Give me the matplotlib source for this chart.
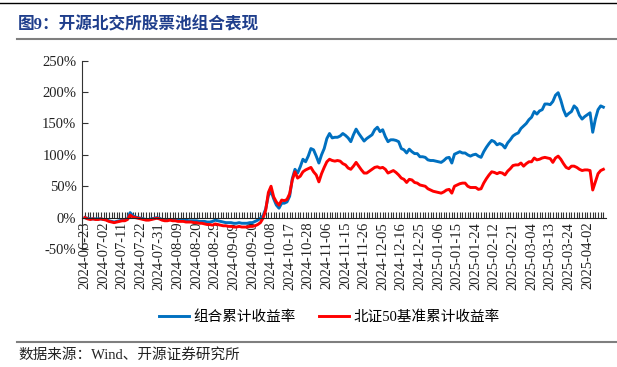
import matplotlib
matplotlib.use('Agg')
import matplotlib.pyplot as plt
from matplotlib.lines import Line2D
import numpy as np
import pandas as pd

plt.rcParams['font.family'] = ['Liberation Serif', 'Noto Sans CJK SC']

# Trading days (first point is the base date)
holidays = ['2024-09-16', '2024-09-17', '2024-10-01', '2024-10-02', '2024-10-03',
            '2024-10-04', '2024-10-07', '2025-01-01', '2025-01-28', '2025-01-29',
            '2025-01-30', '2025-01-31', '2025-02-03', '2025-02-04', '2025-04-04']
days = pd.bdate_range('2024-06-24', '2025-04-11')
days = days[~days.isin(pd.to_datetime(holidays))]
dates = [pd.Timestamp('2024-06-23')] + list(days)
date_labels = [d.strftime('%Y-%m-%d') for d in dates]

# cumulative return of the portfolio (%)
portfolio = [0, -1, -2, -2, -2, -2, -2, -3, -3, -5,
             -6, -7, -6, -5, -4, -4, -2, 8, 3, 1,
             0, -1, -2, -3, -3, -2, -1, 0, -1, -3,
             -3, -3, -3, -3, -3, -4, -4, -4, -4, -5,
             -5, -5, -5, -6, -6, -6, -7, -7, -6, -4,
             -5, -6, -7, -8, -8, -8, -9, -9, -8, -9,
             -9, -9, -8, -8, -6, -4, -1, 3, 14, 35,
             42, 30, 20, 15, 23, 23, 25, 34, 62, 77,
             71, 81, 93, 89, 98, 110, 108, 98, 87, 100,
             110, 126, 134, 127, 128, 128, 130, 134, 131, 127,
             121, 132, 141, 134, 128, 122, 126, 129, 132, 140,
             144, 137, 140, 129, 121, 124, 124, 123, 121, 110,
             108, 103, 109, 105, 102, 102, 97, 97, 96, 92,
             91, 91, 90, 89, 88, 91, 95, 96, 87, 101,
             103, 105, 103, 103, 100, 98, 100, 101, 98, 96,
             105, 112, 118, 123, 121, 116, 118, 116, 111, 119,
             124, 130, 133, 135, 142, 146, 150, 156, 160, 169,
             165, 170, 172, 181, 181, 180, 185, 195, 199, 187,
             172, 162, 166, 169, 178, 174, 163, 157, 161, 164,
             167, 136, 157, 172, 178, 176]

# cumulative return of the BSE 50 benchmark (%)
benchmark = [0, -2, -3, -2, -3, -3, -2, -3, -4, -6,
             -7, -8, -7, -6, -5, -5, -3, 4, 1, 0,
             -1, -2, -3, -4, -4, -3, -2, -1, -2, -4,
             -5, -5, -4, -5, -5, -6, -6, -6, -7, -7,
             -7, -8, -8, -9, -9, -10, -11, -11, -12, -10,
             -11, -12, -13, -13, -14, -14, -15, -15, -14, -15,
             -15, -15, -14, -14, -13, -11, -8, -1, 12, 40,
             50, 33, 25, 20, 28, 27, 29, 38, 60, 73,
             63, 66, 73, 76, 78, 80, 73, 68, 57, 70,
             80, 89, 93, 91, 90, 91, 90, 86, 84, 79,
             77, 82, 88, 82, 76, 71, 71, 74, 77, 80,
             81, 79, 80, 77, 71, 73, 75, 72, 68, 63,
             61, 56, 61, 60, 56, 55, 52, 51, 50, 46,
             44, 42, 41, 40, 39, 41, 44, 45, 39, 50,
             52, 54, 55, 55, 50, 48, 48, 48, 45, 46,
             55, 62, 68, 73, 72, 70, 72, 71, 68, 74,
             78, 83, 84, 84, 87, 82, 86, 89, 89, 95,
             92, 93, 95, 96, 95, 94, 88, 95, 98, 93,
             86, 80, 78, 82, 82, 80, 77, 75, 76, 76,
             75, 44, 57, 70, 75, 77]

yticks = [-50, 0, 50, 100, 150, 200, 250]

x = np.arange(len(dates))

fig = plt.figure(figsize=(6.17, 3.67), dpi=100)
ax = fig.add_axes([0.1329, 0.3215, 0.8493, 0.5131])

ax.plot(x, portfolio, color='#0070C0', lw=2.1, label='组合累计收益率')
ax.plot(x, benchmark, color='#FF0000', lw=2.1, label='北证50基准累计收益率')

ax.set_xlim(-1.1, 196)
ax.set_ylim(-50, 250)
ax.set_yticks(yticks)
ax.set_yticklabels([f'{v}%' for v in yticks])

ax.set_xticks(x, minor=True)
ax.set_xticks(x[::7])
ax.set_xticklabels(date_labels[::7])

ax.spines['top'].set_visible(False)
ax.spines['right'].set_visible(False)
ax.spines['bottom'].set_position(('data', 0))
ax.spines['bottom'].set_color('#222222')
ax.spines['left'].set_color('#333333')
ax.tick_params(axis='x', which='both', direction='in', length=4, width=0.8,
               colors='#333333')
ax.tick_params(axis='x', which='major', labelrotation=90, labelsize=10.5,
               pad=3, labelcolor='#222222')
ax.tick_params(axis='y', direction='in', length=4, width=0.8, pad=4,
               colors='#333333', labelcolor='#222222', labelsize=10.5)

leg = ax.legend(loc='center', bbox_to_anchor=(0.472, -0.36), ncol=2, frameon=False,
                fontsize=10.5, handlelength=2.05, handletextpad=0.35, columnspacing=1.55)

# page decorations
fig.add_artist(Line2D([0, 1], [1 - 3 / 367, 1 - 3 / 367], color='#000000', lw=1.0))
fig.add_artist(Line2D([17 / 617, 1], [1 - 39 / 367, 1 - 39 / 367], color='#7f7f7f', lw=1.5))
fig.add_artist(Line2D([17 / 617, 1], [1 - 342 / 367, 1 - 342 / 367], color='#7f7f7f', lw=1.5))
fig.text(18 / 617, 1 - 25 / 367, '图9：开源北交所股票池组合表现', fontsize=12, fontweight='bold',
         color='#1f3e8c', va='center', ha='left')
fig.text(18 / 617, 1 - 355 / 367, '数据来源：Wind、开源证券研究所', fontsize=10.5,
         color='#222222', va='center', ha='left')

fig.savefig('out.png', dpi=100)
